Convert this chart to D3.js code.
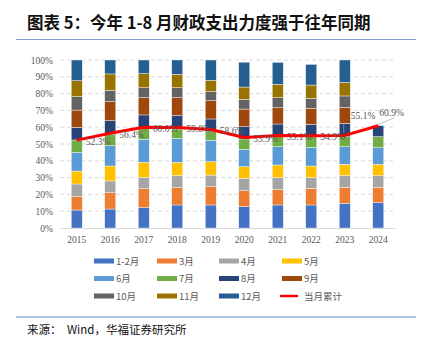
<!DOCTYPE html>
<html><head><meta charset="utf-8">
<script src="https://cdn.jsdelivr.net/npm/d3@7/dist/d3.min.js"></script>
<style>body{margin:0;background:#fff}svg{display:block}</style>
</head><body>
<svg id="c" width="430" height="338"></svg>
<script>
const years = ["2015","2016","2017","2018","2019","2020","2021","2022","2023","2024"];
const months = ["1-2月","3月","4月","5月","6月","7月","8月","9月","10月","11月","12月"];
const colors = ["#4472C4","#ED7D31","#A5A5A5","#FFC000","#5B9BD5","#70AD47","#264478","#9E480E","#636363","#997300","#255E91"];
// share of full-year spending per month group (%), one array per year
const v2015 = [10.7,8.0,7.5,7.7,11.1,7.4,7.5,10.3,8.0,9.5,12.3];
const v2016 = [11.3,9.7,7.0,8.9,12.1,6.8,8.1,11.3,6.7,9.8,8.3];
const v2017 = [12.1,11.3,6.8,8.9,13.7,6.5,8.0,10.3,5.9,8.4,8.1];
const v2018 = [13.7,10.3,7.2,7.9,14.3,5.5,8.0,10.7,5.9,8.0,8.5];
const v2019 = [13.7,10.9,6.9,8.0,12.7,5.1,7.6,10.9,5.4,6.7,12.1];
const v2020 = [12.7,9.5,7.4,6.9,10.3,6.2,7.3,10.5,5.8,7.3,14.8];
const v2021 = [13.7,9.3,7.0,7.5,10.9,6.4,7.1,9.7,6.0,7.9,13.1];
const v2022 = [13.7,9.9,6.4,6.9,11.1,6.8,6.9,9.5,6.0,7.9,12.3];
const v2023 = [14.7,9.5,7.0,6.7,10.5,6.0,7.9,9.5,6.8,8.1,13.3];
const v2024 = [15.1,9.1,7.0,6.7,9.9,6.6,6.5,0,0,0,0];
const cumulative = [52.3,56.4,60.0,59.8,58.6,53.9,55.1,54.9,55.1,60.9];
const lineName = "当月累计";
const yTicks = [0,10,20,30,40,50,60,70,80,90,100];
const title = "图表 5：今年 1-8 月财政支出力度强于往年同期";
const sourceLabel = "来源：";
const sourceText = "Wind，华福证券研究所";

const values = [v2015,v2016,v2017,v2018,v2019,v2020,v2021,v2022,v2023,v2024];
const table = years.map((y,i)=>{const o={year:y};months.forEach((m,j)=>o[m]=values[i][j]);return o;});

const svg = d3.select("#c");
const serif = "'Liberation Serif','Times New Roman',serif";
const cjk = "'Noto Sans CJK SC','Noto Sans',sans-serif";
const gray = "#595959";

// title
svg.append("text").attr("x",27).attr("y",29).attr("font-family",cjk).attr("font-weight","bold")
  .attr("font-size",16.5).attr("fill","#111").text(title);
svg.append("line").attr("x1",16).attr("x2",416).attr("y1",39.5).attr("y2",39.5).attr("stroke","#7FA3D6").attr("stroke-width",1.2);
svg.append("line").attr("x1",16).attr("x2",416).attr("y1",317).attr("y2",317).attr("stroke","#5B86C5").attr("stroke-width",1);
svg.append("text").attr("x",27).attr("y",334).attr("font-family",cjk).attr("font-size",11.5).attr("fill","#111").text(sourceLabel);
svg.append("text").attr("x",67).attr("y",334).attr("font-family",cjk).attr("font-size",11.5).attr("fill","#111").text(sourceText);

const x = d3.scaleBand().domain(years).range([60,395]).paddingInner(0.67).paddingOuter(0.335);
const y = d3.scaleLinear().domain([0,100]).range([228,60]);

// gridlines
svg.append("g").selectAll("line").data(yTicks.filter(t=>t>0)).join("line")
  .attr("x1",60).attr("x2",395).attr("y1",d=>y(d)).attr("y2",d=>y(d))
  .attr("stroke","#D9D9D9").attr("stroke-width",1).attr("stroke-dasharray","4,3");

// y axis labels
const yAxis = d3.axisLeft(y).tickValues(yTicks).tickFormat(d=>d+"%").tickSize(0).tickPadding(0);
const ga = svg.append("g").attr("transform","translate(53,0)").call(yAxis);
ga.select(".domain").remove();
ga.selectAll("text").attr("font-family",serif).attr("font-size",9.5).attr("fill",gray);

// bars
const stack = d3.stack().keys(months)(table);
svg.append("g").selectAll("g").data(stack).join("g").attr("fill",(d,i)=>colors[i])
  .selectAll("rect").data(d=>d.filter(s=>s[1]-s[0]>0)).join("rect")
  .attr("x",d=>x(d.data.year)).attr("width",x.bandwidth())
  .attr("y",d=>y(d[1])).attr("height",d=>y(d[0])-y(d[1]))
  .attr("stroke","#fff").attr("stroke-width",0.4);

// x axis
const xAxis = d3.axisBottom(x).tickSize(0).tickPadding(8);
const gx = svg.append("g").attr("transform","translate(0,228)").call(xAxis);
gx.select(".domain").attr("stroke","#D9D9D9").attr("stroke-width",1);
gx.selectAll("text").attr("font-family",serif).attr("font-size",9.5).attr("fill",gray);

// line
const cx = yr => x(yr)+x.bandwidth()/2;
const line = d3.line().x((d,i)=>cx(years[i])).y(d=>y(d));
svg.append("path").datum(cumulative).attr("d",line).attr("fill","none")
  .attr("stroke","#FF0000").attr("stroke-width",3).attr("stroke-linejoin","round");

// labels
const lbl = svg.append("g").attr("font-family",serif).attr("font-size",9.5).attr("fill",gray);
cumulative.forEach((v,i)=>{
  const px = cx(years[i]), py = y(v);
  let tx = px+9, ty = py+4.5;
  if(i===8){ tx = px+6; ty = py-16;
    svg.append("line").attr("x1",px-1).attr("x2",px-1).attr("y1",py-3).attr("y2",py-12).attr("stroke","#A6A6A6").attr("stroke-width",0.7);
  }
  if(i===9){ tx = px+1; ty = py-10;
    svg.append("line").attr("x1",px).attr("x2",px+16).attr("y1",py-1).attr("y2",py-8).attr("stroke","#A6A6A6").attr("stroke-width",0.7);
  }
  lbl.append("text").attr("x",tx).attr("y",ty).text(v.toFixed(1)+"%");
});

// legend
const legendItems = months.map((m,i)=>({name:m,color:colors[i],type:"bar"})).concat([{name:lineName,color:"#FF0000",type:"line"}]);
const colX = [94,157,219,282], rowY = [261,278.5,296];
const lg = svg.append("g");
legendItems.forEach((d,i)=>{
  const gx0 = colX[i%4], gy0 = rowY[Math.floor(i/4)];
  if(d.type==="bar"){
    lg.append("rect").attr("x",gx0).attr("y",gy0-2.5).attr("width",20).attr("height",5).attr("fill",d.color);
  } else {
    lg.append("line").attr("x1",gx0-2).attr("x2",gx0+16).attr("y1",gy0).attr("y2",gy0).attr("stroke",d.color).attr("stroke-width",2.5);
  }
  lg.append("text").attr("x",gx0+22).attr("y",gy0+3.5).attr("font-family",cjk)
    .attr("font-size",9.5).attr("fill",gray).text(d.name);
});
</script>
</body></html>
